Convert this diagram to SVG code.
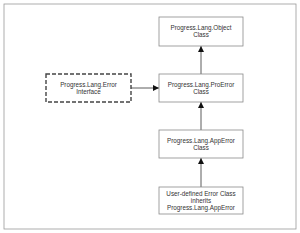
<svg xmlns="http://www.w3.org/2000/svg" width="300" height="233" viewBox="0 0 300 233">
<defs>
<marker id="ah" viewBox="0 0 10 10" refX="10" refY="5" markerWidth="6" markerHeight="6" markerUnits="userSpaceOnUse" orient="auto"><path d="M0,0 L10,5 L0,10 z" fill="#111"/></marker>
</defs>
<style>
.box{fill:#fff;stroke:#8a8a8a;stroke-width:0.8}
.dash{fill:#fff;stroke:#444;stroke-width:1.4;stroke-dasharray:4,2}
.t{font-family:"Liberation Sans",Arial,sans-serif;font-size:6.3px;fill:#333;text-anchor:middle}
.c{stroke:#333;stroke-width:0.8;fill:none;marker-end:url(#ah)}
</style>
<rect x="0" y="0" width="300" height="233" fill="#fff"/>
<rect x="4" y="4" width="292" height="225" fill="#fff" stroke="#999" stroke-width="0.8"/>
<g id="connectors">
<line class="c" x1="201" y1="74" x2="201" y2="46"/>
<line class="c" x1="201" y1="130" x2="201" y2="102"/>
<line class="c" x1="201" y1="187" x2="201" y2="158"/>
<line class="c" x1="131" y1="88" x2="159" y2="88"/>
</g>
<g id="object">
<rect class="box" x="159" y="17" width="84" height="29"/>
<text class="t" x="201" y="29.5">Progress.Lang.Object</text>
<text class="t" x="201" y="36.5">Class</text>
</g>
<g id="proerror">
<rect class="box" x="159" y="74" width="84" height="28"/>
<text class="t" x="201" y="86.5">Progress.Lang.ProError</text>
<text class="t" x="201" y="93.5">Class</text>
</g>
<g id="error">
<rect class="dash" x="46" y="74" width="85" height="28"/>
<text class="t" x="88.5" y="86.5">Progress.Lang.Error</text>
<text class="t" x="88.5" y="93.5">Interface</text>
</g>
<g id="apperror">
<rect class="box" x="159" y="130" width="84" height="28"/>
<text class="t" x="201" y="142.5">Progress.Lang.AppError</text>
<text class="t" x="201" y="149.5">Class</text>
</g>
<g id="userdefined">
<rect class="box" x="159" y="187" width="84" height="27"/>
<text class="t" x="201" y="195.5">User-defined Error Class</text>
<text class="t" x="201" y="202.5">inherits</text>
<text class="t" x="201" y="209.5">Progress.Lang.AppError</text>
</g>
</svg>
